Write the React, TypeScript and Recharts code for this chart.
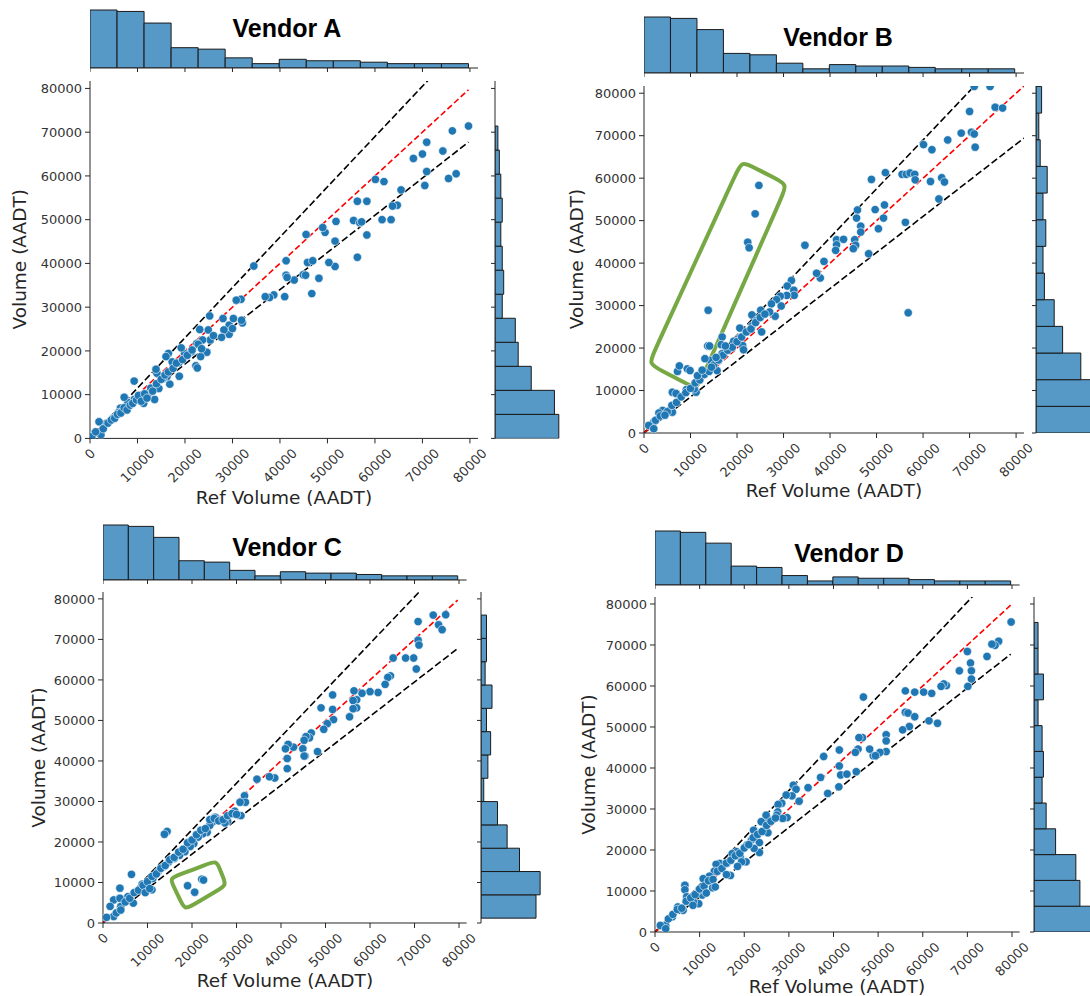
import React from "react";
import { ComposedChart, Scatter, Line, XAxis, YAxis, ReferenceArea } from "recharts";

const FONT = "'DejaVu Sans', sans-serif";
const AXIS = "#262626";
const TICK = "#333333";
const HIST_FILL = "#5698c6";
const DOT = "#1f77b4";
const BOX = "#76a844";
const AX_MAX = 81700;
const axisTicks = [0, 10000, 20000, 30000, 40000, 50000, 60000, 70000, 80000];

// Ref volume histogram (same count sites for every vendor), bottom bins left to right
const refBinCounts = [40, 39, 31, 14, 13, 7, 3, 6, 5, 5, 4, 3, 3, 3];
const refBinRange = [0, 79700];

// vendor volume histograms, bins from bottom to top
const vendorAHist = [44, 41, 25, 16, 14, 5, 6, 5, 4, 5, 4, 3, 2];
const vendorAHistRange = [0, 71400];
const vendorBHist = [42, 40, 32, 19, 13, 6, 5, 7, 5, 8, 3, 2, 4];
const vendorBHistRange = [0, 81600];
const vendorCHist = [40, 43, 28, 19, 12, 2, 5, 7, 4, 8, 3, 4, 4];
const vendorCHistRange = [1200, 76000];
const vendorDHist = [46, 34, 31, 16, 9, 6, 7, 6, 3, 7, 3, 3];
const vendorDHistRange = [0, 75500];

// scatter points [ref, vendor] in thousands of AADT
const vendorAPoints = [
  [79.7, 71.4], [76.3, 70.3], [77.1, 60.5], [75.5, 59.4], [74.3, 65.7], [70.9, 67.7], [70, 65], [68.1, 64],
  [70.9, 61], [70.5, 57.8], [65.5, 56.8], [64.7, 53.3], [63.7, 53.1], [63.4, 50], [61.5, 50], [61.9, 58.7],
  [60.1, 59.2], [58.3, 54.2], [56.3, 54.2], [55.5, 49.8], [56.8, 49.3], [57.2, 49.5], [58.3, 46.5], [56.3, 41.4],
  [51.8, 49.6], [51.6, 45.1], [51.6, 39.3], [50.3, 40.2], [49.5, 47.1], [49, 48.2], [45.5, 46.6], [45.8, 40.2],
  [46.9, 40.6], [46.7, 33.1], [48.2, 36.6], [44.9, 37.4], [45.4, 37.3], [43, 36.2], [41.3, 40.6], [41.3, 37.3],
  [41.5, 36.8], [41, 32.4], [38.7, 32.8], [37.8, 32.2], [36.9, 32.4], [34.5, 39.4], [32.1, 26.4], [31.8, 31.8],
  [30.8, 31.6], [31.9, 27], [29.3, 25.9], [29.3, 23.8], [30, 25.1], [30.2, 27.4], [28, 27.4], [28.2, 24.8],
  [27.7, 23.1], [25.2, 28], [24.9, 24.8], [25.3, 22.5], [24.6, 19.7], [23.1, 24.9], [23.7, 22.5], [23.3, 18.7],
  [22.3, 16.6], [22.6, 16.1], [21.4, 19.8], [22.5, 21.7], [19.9, 19.4], [19.2, 20.7], [18.7, 17.3], [18.8, 14.2],
  [17.3, 17.5], [16.8, 12.4], [16.5, 19.4], [16, 18.7], [16.2, 14.1], [15.4, 13.7], [14.5, 11.4], [14.1, 14.9],
  [13.9, 15.8], [9.3, 13.1], [12.4, 10.4], [13.6, 8.9], [11.3, 8], [10.6, 9.4], [9.3, 8.9], [8, 8.2],
  [7.2, 9.4], [6.4, 6.9], [6, 5.9], [4.9, 4.6], [3.4, 3.4], [1.9, 3.8], [2.3, 0.8], [0.8, 1.1], [0.4, 0.4],
  [1.2, 1.5], [2.8, 2.2], [3.8, 3.5], [4.5, 4.2], [5.2, 4.6], [5.8, 5.5], [6.5, 5.8], [7.2, 7], [7.8, 6.5],
  [8.5, 7.6], [9, 8], [9.8, 8.8], [10.2, 9.8], [10.8, 8.5], [11.5, 10.2], [12, 9.2], [12.8, 11.5], [13.2, 10.8],
  [14, 12.5], [15, 13.5], [15.8, 14.5], [16.5, 15.2], [17.5, 16], [18.2, 17.2], [19.5, 18], [20.5, 19],
  [21.5, 20.2], [22.8, 21.5], [23.5, 20.5], [26, 23.5],
];

const vendorBPoints = [
  [71, 81.6], [74.4, 81.6], [75.5, 76.7], [77.1, 76.5], [70, 75.7], [65.3, 69], [68.2, 70.6], [70.4, 70.8],
  [71, 70.4], [71.2, 67.3], [60.1, 67.9], [61.9, 66.7], [51.9, 61.3], [48.9, 59.7], [55.5, 60.9], [56.4, 60.9],
  [57.2, 61.2], [58.2, 60.9], [58.3, 59.6], [61.6, 59.2], [64, 60.1], [64.6, 59.1], [63.4, 55.1], [56.2, 49.6],
  [51.7, 53.7], [51.5, 50.6], [49.7, 52.6], [50.4, 48.1], [45.9, 52.5], [45.7, 50.6], [46.6, 48.7], [46.6, 47.3],
  [48.3, 42.2], [45.3, 45.5], [45.5, 44.2], [45, 43.4], [41.4, 45.5], [41.4, 44.3], [41.2, 43], [42.9, 45.6],
  [34.6, 44.2], [38.7, 40.4], [37.9, 36.5], [37.1, 37.6], [56.8, 28.3], [31.7, 35.9], [30.8, 34.6], [32.2, 33.6],
  [32.3, 32.4], [30.7, 32.4], [29.3, 32.2], [28.5, 31.4], [27.4, 30.4], [29.5, 29.9], [28.2, 27.5], [27, 28.5],
  [25.1, 28.9], [23.2, 27.8], [24.2, 26.5], [23.2, 25.2], [25.3, 23.8], [22.1, 23.8], [20.6, 24.7], [20.6, 22.4],
  [21.2, 20.6], [19.3, 21.6], [18.3, 19.8], [16.8, 22.6], [16.6, 20.8], [16.8, 18.7], [16.1, 17.1], [15.7, 14.7],
  [14.3, 17.1], [13.1, 17.5], [13.8, 28.9], [13.7, 20.5], [14.1, 20.5], [7.2, 14.5], [7.6, 15.8], [9.3, 15.1],
  [9.9, 14.7], [21.4, 19.6], [24.7, 58.3], [23.9, 51.6], [22.3, 44.9], [22.6, 43.6], [11.2, 9.6], [10.8, 10.4],
  [9.1, 10.2], [6.1, 9.6], [6.9, 9.3], [6.1, 4.9], [4, 5.3], [3.2, 4.7], [2.1, 2.6], [1, 1.8], [2.1, 1],
  [5, 5], [6, 6.5], [7, 7.2], [8, 8.5], [9, 9.5], [10, 10.5], [11, 11.8], [12, 12.5], [13, 13.8], [14, 14.5],
  [15, 16], [16, 17.2], [17, 18.3], [18, 19.5], [19, 20.2], [20, 21.5], [21, 22.6], [22, 23.8], [23, 24.5],
  [24, 26], [25, 27.2], [26, 28], [2.5, 3], [3.5, 4], [4.5, 4.2], [11.5, 13.5], [12.5, 14.8], [14.5, 15.5],
  [15.5, 17.8], [17.5, 20.5],
];

const vendorCPoints = [
  [77, 76.1], [74.2, 76], [70.8, 74.4], [75.4, 73.6], [76.2, 72.4], [70.8, 69.8], [71, 68.6], [69.8, 65.4],
  [68, 65.4], [65.2, 65.4], [70.4, 62.7], [64.6, 61], [64, 60.6], [63.4, 58.9], [61.8, 56.9], [60, 57.1],
  [58.2, 56.7], [56.4, 57.3], [57, 55.1], [56.2, 54.9], [57, 53.1], [56.2, 52.9], [55.4, 50.9], [51.6, 56.3],
  [51.6, 52.7], [51.8, 50.2], [49, 53.1], [50.4, 49.2], [49.6, 47.8], [48.2, 42.3], [46.8, 46.9], [46.4, 45.7],
  [45.6, 46], [45.2, 45.1], [44.9, 43], [45.4, 41.2], [45.2, 41.2], [42.8, 43.4], [41.6, 44.1], [41, 43],
  [41.4, 40.6], [41.4, 38.1], [38.6, 35.8], [37.4, 36.1], [34.6, 35.5], [31.8, 31.4], [32, 29.8], [30.8, 29.8],
  [31, 26.5], [29.6, 27.6], [28, 25.1], [27.4, 24.7], [25.2, 26.1], [24.6, 24.9], [24, 24.1], [23.4, 22.4],
  [22.4, 22], [21.4, 21.2], [20.4, 19.6], [19.6, 18.9], [18.4, 17.6], [17.2, 16.7], [16, 15.9], [14.8, 15.1],
  [14.4, 22.6], [13.8, 21.9], [13.6, 13.9], [12.4, 12.7], [11.2, 11], [11, 8.2], [8.8, 9.6], [6.4, 12],
  [6.8, 4.9], [5.6, 6.5], [3.8, 8.6], [2.4, 5.7], [3.8, 6.1], [1.6, 4.1], [2.4, 1.6], [0.8, 1.4], [4, 4.1],
  [19, 9.2], [20.6, 7.6], [22.2, 10.8], [22.6, 10.6],
  [5, 5.2], [6, 6.1], [7, 7.5], [8, 8.1], [9, 9.3], [10, 10.2], [11, 11.5], [12, 12.1], [13, 13.5], [14, 14.2],
  [15, 15.6], [16, 16.2], [17, 17.5], [18, 18.2], [19, 19.8], [20, 20.5], [21, 21.8], [22, 22.9], [23, 23.3],
  [24, 25.5], [25, 25.8], [26, 25.2], [27, 25.5], [28, 26.5], [29, 27], [30, 26.8], [3, 2.5], [4, 3.2],
  [9.5, 7.5], [10.5, 8.5],
];

const vendorDPoints = [
  [79.8, 75.6], [77, 70.9], [76.2, 69.9], [75.5, 70.2], [74.4, 67.2], [70, 68.4], [70.7, 65.6], [70.9, 63.7],
  [68.2, 63.7], [65.3, 60.1], [64.7, 60.5], [64.1, 59.9], [70.9, 61.7], [70.1, 59.9], [62, 58.2], [60.2, 58.5],
  [58.2, 58.5], [56.1, 58.8], [56.1, 53.6], [56.7, 53.4], [58.2, 52.5], [57, 50.1], [55.5, 49.3], [61.4, 51.5],
  [63.3, 50.9], [46.7, 57.3], [51.8, 48.1], [51.8, 46.6], [51.8, 44], [50.4, 43.8], [48.9, 43], [49.4, 43],
  [48.1, 44.6], [46.5, 47.4], [45.7, 47.4], [45.5, 44.6], [44.9, 43.8], [45.1, 39.1], [41.3, 44.4], [41.3, 40.5],
  [41.6, 38.3], [43, 38.5], [41.2, 35.4], [38.7, 33.8], [37.8, 42.8], [37.1, 37.7], [34.3, 35.2], [31, 35.8],
  [31.6, 34.8], [30.7, 33.2], [32.3, 31.9], [29.4, 33.4], [28.4, 31.4], [27.6, 31.1], [27.5, 29.3], [27.3, 28.5],
  [29.6, 27.9], [28.6, 27.7], [25.3, 27.5], [24.9, 28.5], [23.8, 26.9], [25.3, 24.2], [22.1, 24.8], [22.5, 22.8],
  [21.6, 22.4], [23.4, 21.8], [23.4, 19.4], [22.2, 20.4], [20.6, 21.2], [20.4, 17.1], [19.1, 18.3], [19.4, 17.1],
  [18.3, 19.6], [17.3, 19.1], [16.9, 13.8], [16.1, 16.7], [14.5, 16.7], [13.7, 16.5], [13.3, 14.8], [12.9, 10.8],
  [12.2, 13.6], [10.8, 13], [10.6, 9], [9.8, 6.9], [9.8, 10.2], [8.6, 7.3], [6.7, 11.4], [6.7, 10.3], [7.1, 8.6],
  [6.3, 5.3], [5.1, 6.1], [3.9, 3.7], [2.4, 1.6], [1.2, 1.6], [2.4, 0.8],
  [3, 3.2], [4, 4.3], [5, 5.5], [6, 5.8], [7, 7.5], [8, 8.3], [9, 9.1], [10, 10.5], [11, 11.2], [12, 12.5],
  [13, 12.8], [14, 14.8], [15, 15.5], [16, 16.8], [17, 17.5], [18, 18.6], [19, 19.2], [20, 20.5], [21, 21.3],
  [22, 23], [23, 23.8], [24, 24.5], [25, 26], [26, 27], [27, 27.8], [8.5, 6.5], [11.5, 9.5], [13.5, 11],
  [16, 14], [18.5, 16],
];

// green annotation boxes, corner points in thousands of AADT
const vendorBOutlierBox = [[21, 64], [30.8, 58.5], [11.4, 10.3], [1, 16.3]];
const vendorCOutlierBox = [[15, 11], [25.5, 15.4], [27.7, 9.3], [18.4, 3.3]];

const toPoints = (arr: number[][]) => arr.map(([x, y]) => ({ x: x * 1000, y: y * 1000 }));

const makeBins = (counts: number[], range: number[]) => {
  const w = (range[1] - range[0]) / counts.length;
  return counts.map((c, i) => ({ lo: range[0] + i * w, hi: range[0] + (i + 1) * w, count: c }));
};

// rounded outline: each corner gets two neighbours so the closed basis curve rounds it
const roundedOutline = (corners: number[][], d: number) => {
  const out: { x: number; y: number }[] = [];
  const n = corners.length;
  corners.forEach((c, i) => {
    const p = corners[(i + n - 1) % n];
    const q = corners[(i + 1) % n];
    const toward = (t: number[]) => {
      const dx = t[0] - c[0];
      const dy = t[1] - c[1];
      const len = Math.hypot(dx, dy);
      return { x: (c[0] + (dx / len) * d) * 1000, y: (c[1] + (dy / len) * d) * 1000 };
    };
    out.push(toward(p), { x: c[0] * 1000, y: c[1] * 1000 }, toward(q));
  });
  return out;
};

type Geo = {
  plotL: number; plotR: number; plotT: number; plotB: number;
  histBase: number; ppc: number; rightL: number; rightR: number;
  title: number[]; xLabel: number[]; yLabelX: number;
};

const panels = [
  {
    name: "Vendor A", points: toPoints(vendorAPoints), hist: makeBins(vendorAHist, vendorAHistRange), lineEnd: 79700, box: null,
    geo: { plotL: 90, plotR: 478, plotT: 80.6, plotB: 438, histBase: 68.3, ppc: 1.45, rightL: 495, rightR: 566, title: [287, 37], xLabel: [284, 497], yLabelX: 20 },
  },
  {
    name: "Vendor B", points: toPoints(vendorBPoints), hist: makeBins(vendorBHist, vendorBHistRange), lineEnd: 81700, box: roundedOutline(vendorBOutlierBox, 3),
    geo: { plotL: 644, plotR: 1024, plotT: 85.5, plotB: 432.5, histBase: 72.7, ppc: 1.4, rightL: 1036, rightR: 1090, title: [838, 46], xLabel: [834, 490], yLabelX: 576 },
  },
  {
    name: "Vendor C", points: toPoints(vendorCPoints), hist: makeBins(vendorCHist, vendorCHistRange), lineEnd: 79700, box: roundedOutline(vendorCOutlierBox, 2.2),
    geo: { plotL: 103, plotR: 466.6, plotT: 592, plotB: 923, histBase: 579.5, ppc: 1.375, rightL: 481, rightR: 560, title: [287, 556], xLabel: [285, 980], yLabelX: 38.6 },
  },
  {
    name: "Vendor D", points: toPoints(vendorDPoints), hist: makeBins(vendorDHist, vendorDHistRange), lineEnd: 79700, box: null,
    geo: { plotL: 655, plotR: 1019.6, plotT: 597, plotB: 932, histBase: 585, ppc: 1.35, rightL: 1034, rightR: 1090, title: [849, 562], xLabel: [837, 986], yLabelX: 588 },
  },
];

const refBins = makeBins(refBinCounts, refBinRange);

const RotatedTick = (props: any) => {
  const { x, y, payload } = props;
  const label = String(payload.value);
  const fs = 13;
  const w = label.length * 0.636 * fs;
  const off = ((w + fs) * 0.707) / 2;
  return (
    <text
      x={x}
      y={y + off}
      transform={`rotate(-45 ${x} ${y + off})`}
      textAnchor="middle"
      dominantBaseline="central"
      fill={TICK}
      fontSize={fs}
      fontFamily={FONT}
    >
      {label}
    </text>
  );
};

const renderDot = (props: any) => (
  <circle cx={props.cx} cy={props.cy} r={4.2} fill={DOT} stroke="#ffffff" strokeWidth={0.6} />
);

const blank = () => "";

function TopHist({ g }: { g: Geo }) {
  const H = 64;
  const mb = 8;
  const w = g.plotR - g.plotL;
  return (
    <div style={{ position: "absolute", left: g.plotL, top: g.histBase - H }}>
      <ComposedChart width={w + 6} height={H + mb} margin={{ top: 0, right: 6, bottom: 0, left: 0 }}>
        <XAxis type="number" dataKey="x" domain={[0, AX_MAX]} ticks={axisTicks} interval={0} allowDataOverflow
          height={mb} tickSize={4} tickFormatter={blank} stroke={AXIS} />
        <YAxis type="number" dataKey="y" domain={[0, H / g.ppc]} allowDataOverflow hide />
        {refBins.map((b, i) => (
          <ReferenceArea key={i} x1={b.lo} x2={b.hi} y1={0} y2={b.count} ifOverflow="hidden"
            fill={HIST_FILL} fillOpacity={1} stroke="#1a1a1a" strokeWidth={1} />
        ))}
      </ComposedChart>
    </div>
  );
}

function RightHist({ g, bins }: { g: Geo; bins: { lo: number; hi: number; count: number }[] }) {
  const ml = 8;
  const mt = 6;
  const w = g.rightR - g.rightL;
  const h = g.plotB - g.plotT;
  return (
    <div style={{ position: "absolute", left: g.rightL - ml, top: g.plotT - mt }}>
      <ComposedChart width={w + ml} height={h + mt + 2} margin={{ top: mt, right: 0, bottom: 2, left: 0 }}>
        <XAxis type="number" dataKey="x" domain={[0, w / g.ppc]} allowDataOverflow height={0} tick={false} axisLine={false} tickLine={false} />
        <YAxis type="number" dataKey="y" domain={[0, AX_MAX]} ticks={axisTicks} interval={0} allowDataOverflow
          width={ml} tickSize={4} tickFormatter={blank} stroke={AXIS} />
        {bins.map((b, i) => (
          <ReferenceArea key={i} x1={0} x2={b.count} y1={b.lo} y2={b.hi} ifOverflow="hidden"
            fill={HIST_FILL} fillOpacity={1} stroke="#1a1a1a" strokeWidth={1} />
        ))}
      </ComposedChart>
    </div>
  );
}

function MainPlot({ g, points, lineEnd, box }: { g: Geo; points: { x: number; y: number }[]; lineEnd: number; box: { x: number; y: number }[] | null }) {
  const ml = 80;
  const mr = 12;
  const mt = 12;
  const mb = 56;
  const w = g.plotR - g.plotL;
  const h = g.plotB - g.plotT;
  const diag = (k: number) => [{ x: 0, y: 0 }, { x: lineEnd, y: lineEnd * k }];
  return (
    <div style={{ position: "absolute", left: g.plotL - ml, top: g.plotT - mt }}>
      <ComposedChart width={w + ml + mr} height={h + mt + mb} margin={{ top: mt, right: mr, bottom: 0, left: 0 }}>
        <XAxis type="number" dataKey="x" domain={[0, AX_MAX]} ticks={axisTicks} interval={0} allowDataOverflow
          height={mb} tickSize={5} tickMargin={3} stroke={AXIS} tick={<RotatedTick />} />
        <YAxis type="number" dataKey="y" domain={[0, AX_MAX]} ticks={axisTicks} interval={0} allowDataOverflow
          width={ml} tickSize={5} tickMargin={3} stroke={AXIS}
          tick={{ fill: TICK, fontSize: 13, fontFamily: FONT }} />
        <Scatter data={points} shape={renderDot} isAnimationActive={false} />
        <Line data={diag(1.15)} dataKey="y" stroke="#000000" strokeWidth={1.6} strokeDasharray="7 3" dot={false} isAnimationActive={false} />
        <Line data={diag(0.85)} dataKey="y" stroke="#000000" strokeWidth={1.6} strokeDasharray="7 3" dot={false} isAnimationActive={false} />
        <Line data={diag(1)} dataKey="y" stroke="#ff0000" strokeWidth={1.6} strokeDasharray="6 3" dot={false} isAnimationActive={false} />
        {box && (
          <Line data={box} dataKey="y" type="basisClosed" stroke={BOX} strokeWidth={4} dot={false} isAnimationActive={false} />
        )}
      </ComposedChart>
    </div>
  );
}

export default function App() {
  return (
    <div style={{ position: "absolute", left: 0, top: 0, width: 1090, height: 996, background: "#ffffff", overflow: "hidden" }}>
      {panels.map((p) => (
        <React.Fragment key={p.name}>
          <TopHist g={p.geo} />
          <MainPlot g={p.geo} points={p.points} lineEnd={p.lineEnd} box={p.box} />
          <RightHist g={p.geo} bins={p.hist} />
        </React.Fragment>
      ))}
      <svg width={1090} height={996} style={{ position: "absolute", left: 0, top: 0, pointerEvents: "none" }}>
        {panels.map((p) => {
          const g = p.geo;
          const yMid = (g.plotT + g.plotB) / 2;
          return (
            <g key={p.name}>
              <text x={g.title[0]} y={g.title[1]} textAnchor="middle" fontFamily="'Liberation Sans', Arial, sans-serif"
                fontWeight="bold" fontSize={25} fill="#000000">{p.name}</text>
              <text x={g.xLabel[0]} y={g.xLabel[1]} textAnchor="middle" dominantBaseline="central" fontFamily={FONT}
                fontSize={18.5} fill="#262626">Ref Volume (AADT)</text>
              <text x={g.yLabelX} y={yMid} textAnchor="middle" dominantBaseline="central" fontFamily={FONT}
                fontSize={18.5} fill="#262626" transform={`rotate(-90 ${g.yLabelX} ${yMid})`}>Volume (AADT)</text>
            </g>
          );
        })}
      </svg>
    </div>
  );
}
